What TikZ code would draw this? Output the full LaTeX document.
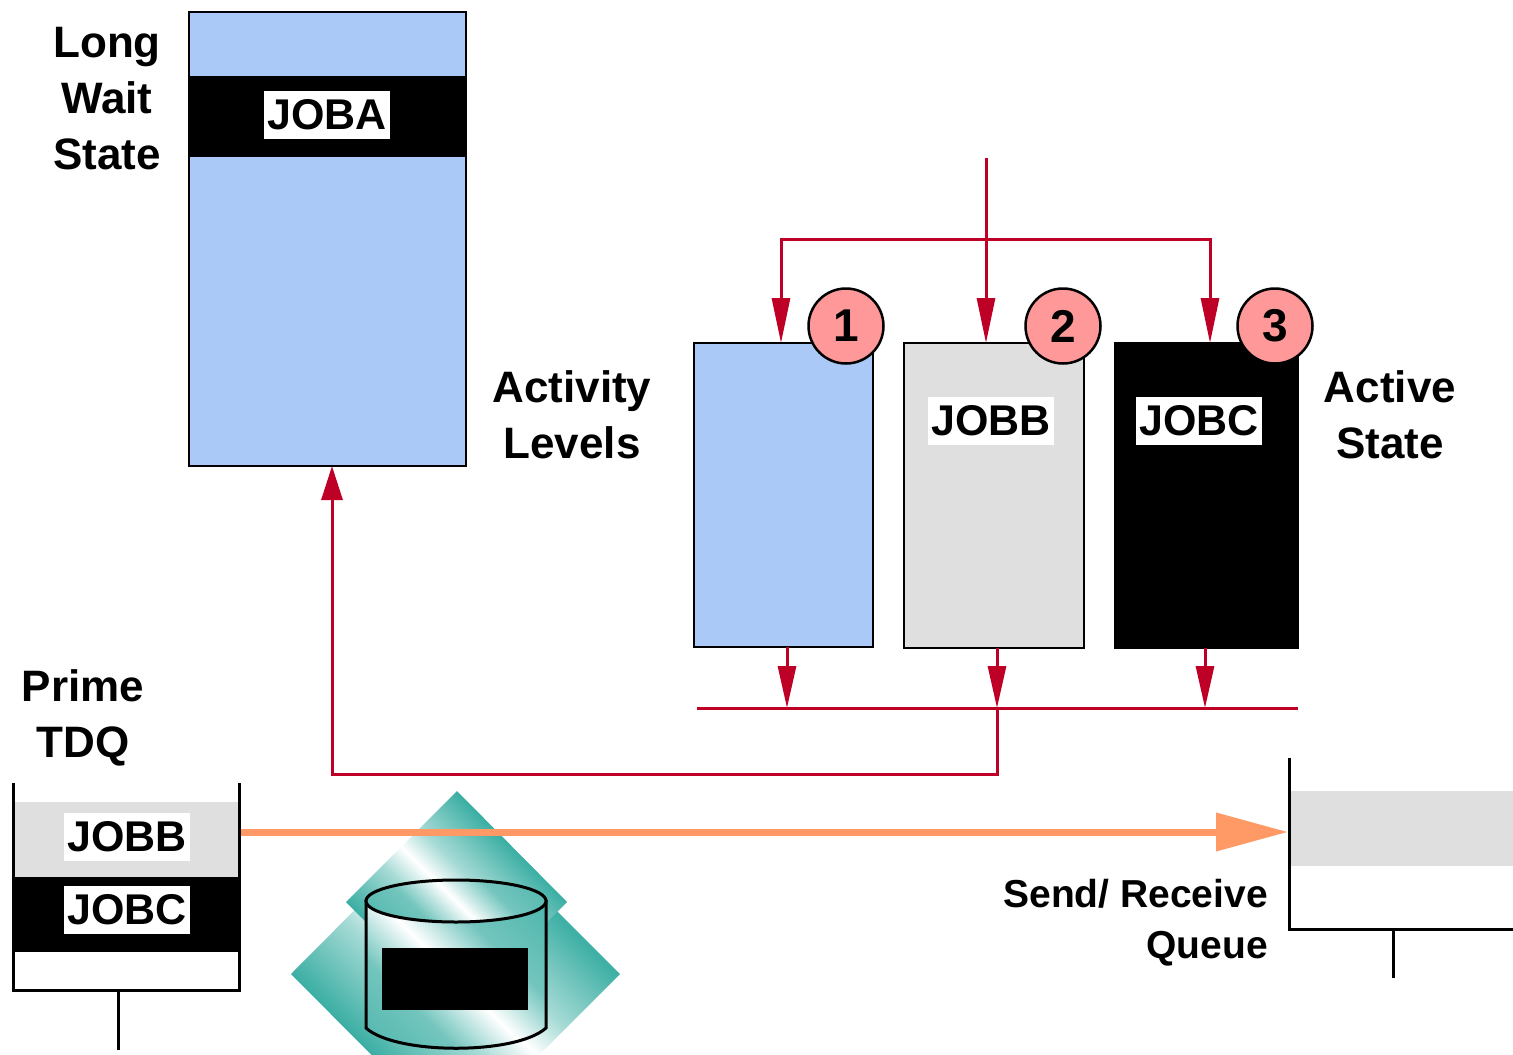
\documentclass[tikz,border=0pt]{standalone}
\usepackage{fontspec}
\setmainfont{Liberation Sans}
\usetikzlibrary{arrows.meta}

\definecolor{paleblue}{HTML}{ABC9F7}
\definecolor{palegray}{HTML}{DFDFDF}
\definecolor{badgepink}{HTML}{FF9999}
\definecolor{flowred}{HTML}{BF0026}
\definecolor{sendorange}{HTML}{FF9966}
\definecolor{dbteal}{HTML}{009688}

% teal sheen with a narrow white streak across the middle
\pgfdeclarehorizontalshading{sheen}{100bp}{%
  color(0bp)=(dbteal); color(30bp)=(dbteal!85); color(44bp)=(dbteal!35);
  color(50bp)=(white); color(56bp)=(dbteal!35); color(70bp)=(dbteal!85); color(100bp)=(dbteal)}
\pgfdeclarehorizontalshading{softsheen}{100bp}{%
  color(0bp)=(dbteal!80); color(35bp)=(dbteal!55); color(50bp)=(white);
  color(65bp)=(dbteal!55); color(100bp)=(dbteal!80)}

\tikzset{
  caption/.style={font=\fontsize{44}{56}\selectfont\bfseries, align=center, inner sep=0pt},
  jobtag/.style={fill=white, font=\fontsize{43}{43}\selectfont\bfseries, inner xsep=3pt, inner ysep=9pt},
  levelbox/.style={draw=black, line width=2.5pt, minimum width=179pt, minimum height=304pt, inner sep=0pt},
  badge/.style={circle, draw=black, line width=2.5pt, fill=badgepink, minimum size=75pt, inner sep=0pt,
                font=\fontsize{46}{46}\selectfont\bfseries},
  redline/.style={draw=flowred, line width=3pt},
  redarrow/.style={redline, -{Triangle[length=45pt,width=18pt]}},
  queueline/.style={draw=black, line width=3pt},
}

\begin{document}
\begin{tikzpicture}[x=1pt,y=-1pt]
\useasboundingbox (0,0) rectangle (1513,1055);

% long wait state pool with JOBA
\fill[paleblue] (189,12) rectangle (466,466);
\fill[black] (189,76) rectangle (466,157);
\node[draw=black, line width=2.5pt, minimum width=277pt, minimum height=454pt, inner sep=0pt] (pool) at (327.5,239) {};
\node[jobtag] (joba) at (327,115) {JOBA};
\node[caption] (longwait) at (107,99) {Long\\Wait\\State};

% activity levels
\node[caption] (actlev) at (572,415) {Activity\\Levels};
\node[caption] (actstate) at (1390,415) {Active\\State};

\node[levelbox, fill=paleblue] (lvl1) at (783.5,495) {};
\node[levelbox, fill=palegray, minimum width=180pt, minimum height=305pt] (lvl2) at (994,495.5) {};
\node[levelbox, fill=black, minimum width=183pt, minimum height=305pt] (lvl3) at (1206.5,495.5) {};
\node[jobtag] (jobb) at (991,421) {JOBB};
\node[jobtag] (jobc) at (1199,421) {JOBC};

% dispatch into the activity levels
\coordinate (feed) at (986,158);
\coordinate (split) at (986,239);
\coordinate (in1) at (781,343);
\coordinate (in2) at (986,343);
\coordinate (in3) at (1210,343);
\draw[redline] (in1 |- split) -- (in3 |- split);
\draw[redarrow] (feed) -- (in2);
\draw[redarrow] (split) -| (in1);
\draw[redarrow] (split) -| (in3);

\node[badge] (b1) at (846,326) {1};
\node[badge] (b2) at (1063,326) {2};
\node[badge] (b3) at (1275,326) {3};

% leaving the activity levels
\coordinate (busL) at (697,708);
\coordinate (busR) at (1298,708);
\coordinate (out1) at (787,647);
\coordinate (out2) at (997,648);
\coordinate (out3) at (1205,648);
\draw[redline] (busL) -- (busR);
\draw[redarrow, -{Triangle[length=42pt,width=18pt]}] (out1) -- (out1 |- busL);
\draw[redarrow, -{Triangle[length=42pt,width=18pt]}] (out2) -- (out2 |- busL);
\draw[redarrow, -{Triangle[length=42pt,width=18pt]}] (out3) -- (out3 |- busL);
\coordinate (turn) at (997,774);
\coordinate (poolIn) at (332,466);
\draw[redline, -{Triangle[length=34pt,width=21pt]}] (out2 |- busL) -- (turn) -| (poolIn);

% database icon
\begin{scope}
\clip (0,0) rectangle (1513,1055);
\shade[shading=sheen, shading angle=45]
  (455,809) -- (620,974) -- (455,1139) -- (291,974) -- cycle;
\shade[shading=sheen, shading angle=45]
  (457,791) -- (567,902) -- (457,1013) -- (346,902) -- cycle;
\shade[shading=softsheen, shading angle=45, draw=black, line width=3pt]
  (366,901) -- (366,1028) .. controls (396,1055) and (516,1055) .. (546,1028) -- (546,901) -- cycle;
\shade[shading=softsheen, shading angle=45, draw=black, line width=3pt]
  (456,901) ellipse [x radius=90pt, y radius=21pt];
\fill[black] (382,948) rectangle (528,1010);
\end{scope}

% prime TDQ
\node[caption] (prime) at (83,718) {Prime\\TDQ};
\fill[palegray] (13,802) rectangle (239,877);
\fill[black] (13,877) rectangle (241,952);
\coordinate (tdqTL) at (13,783);
\coordinate (tdqBL) at (13,990);
\coordinate (tdqBR) at (239,990);
\coordinate (tdqTR) at (239,783);
\draw[queueline] (tdqTL) -- (tdqBL) -- (tdqBR) -- (tdqTR);
\coordinate (tdqStem) at (118,1050);
\draw[queueline] (tdqStem |- tdqBL) -- (tdqStem);
\node[jobtag] (tdqb) at (127,837) {JOBB};
\node[jobtag] (tdqc) at (127,910) {JOBC};

% send / receive queue
\fill[palegray] (1290,791) rectangle (1513,866);
\coordinate (srTL) at (1289,758);
\coordinate (srBL) at (1289,929);
\coordinate (srBR) at (1513,929);
\draw[queueline] (srTL) -- (srBL) -- (srBR);
\coordinate (srStem) at (1393,978);
\draw[queueline] (srStem |- srBL) -- (srStem);
\node[font=\fontsize{39}{51}\selectfont\bfseries, align=right, inner sep=0pt, anchor=east] (srlabel) at (1268,923) {Send/ Receive\\Queue};

% transfer arrow
\coordinate (sendFrom) at (241,832);
\coordinate (sendTo) at (1288,832);
\draw[draw=sendorange, line width=7pt, -{Triangle[length=72pt,width=37pt]}] (sendFrom) -- (sendTo);
\end{tikzpicture}
\end{document}
